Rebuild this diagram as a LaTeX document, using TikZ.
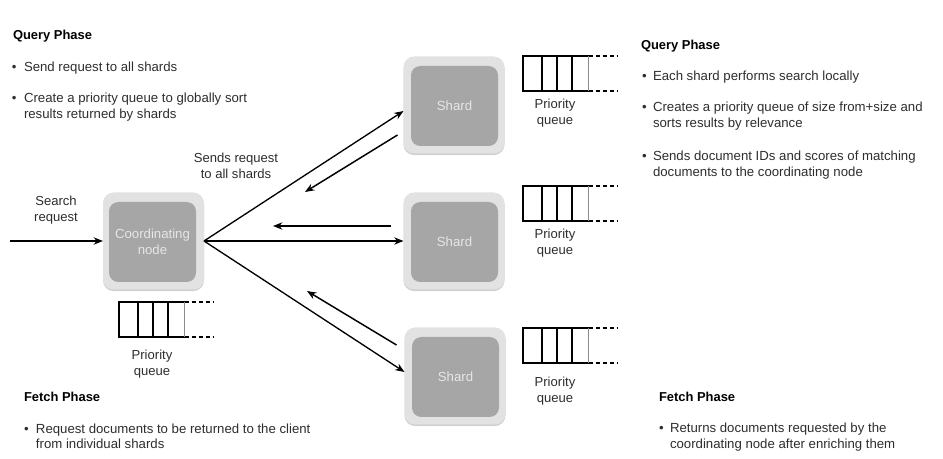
\documentclass[tikz,border=0pt]{standalone}
\usepackage{fontspec}
\setmainfont{Liberation Sans}
\usetikzlibrary{arrows.meta,calc}
\definecolor{outerc}{HTML}{E2E2E2}
\definecolor{innerc}{HTML}{A6A6A6}
\definecolor{boxtxt}{HTML}{E6E6E6}
\definecolor{txtc}{HTML}{2E2E2E}
\begin{document}
\begin{tikzpicture}[x=0.75pt,y=-0.75pt,
  every node/.style={inner sep=0pt,outer sep=0pt},
  txt/.style={anchor=base west,text=txtc,font=\fontsize{9.9}{11.6}\selectfont},
  head/.style={anchor=base west,text=black,font=\fontsize{9.7}{11.6}\selectfont\bfseries},
  lbl/.style={align=center,text=txtc,font=\fontsize{9.8}{12}\selectfont},
  outerbox/.style={fill=outerc,rounded corners=8pt,minimum width=75.75pt,minimum height=72.75pt,
     preaction={fill=black!18,transform canvas={yshift=-1.2pt}}},
  innerbox/.style={fill=innerc,rounded corners=7pt,minimum width=65.25pt,minimum height=60pt,
     align=center,text=boxtxt,font=\fontsize{9.9}{12}\selectfont},
  arr/.style={line width=1.1pt,-{Stealth[length=7pt,width=5.5pt]}},
  fan/.style={line width=1pt,-{Stealth[length=7pt,width=5.5pt]}},
  qthick/.style={line width=1.4pt,line cap=rect},
  qdash/.style={line width=1pt,dash pattern=on 3pt off 2.2pt},
  pqueue/.pic={
    \draw[qthick] (0,0) -- (65,0) (0,35) -- (65,35) (0,0) -- (0,35)
      (19,0) -- (19,35) (34,0) -- (34,35) (49,0) -- (49,35);
    \draw[black!45,line width=0.5pt] (65,0) -- (65,35);
    \draw[qdash] (66,0) -- (95,0) (66,35) -- (95,35);
  }]
\useasboundingbox[fill=white] (0,0) rectangle (943,459);

% --- text blocks ---
\node[head] (lq) at (13,40) {Query Phase};
\node[txt] (lq1b) at (12,72) {•};
\node[txt] (lq1) at (24,72) {Send request to all shards};
\node[txt] (lq2b) at (12,103) {•};
\node[txt] (lq2) at (24,103) {Create a priority queue to globally sort};
\node[txt] (lq2c) at (24,119) {results returned by shards};

\node[head] (rq) at (641,50) {Query Phase};
\node[txt] (rq1b) at (642,81) {•};
\node[txt] (rq1) at (653,81) {Each shard performs search locally};
\node[txt] (rq2b) at (642,112) {•};
\node[txt] (rq2) at (653,112) {Creates a priority queue of size from+size and};
\node[txt] (rq2c) at (653,128) {sorts results by relevance};
\node[txt] (rq3b) at (642,161) {•};
\node[txt] (rq3) at (653,161) {Sends document IDs and scores of matching};
\node[txt] (rq3c) at (653,177) {documents to the coordinating node};

\node[head] (lf) at (24,402) {Fetch Phase};
\node[txt] (lf1b) at (24,434) {•};
\node[txt] (lf1) at (36,434) {Request documents to be returned to the client};
\node[txt] (lf1c) at (36,449) {from individual shards};

\node[head] (rf) at (659,402) {Fetch Phase};
\node[txt] (rf1b) at (659,433) {•};
\node[txt] (rf1) at (670,433) {Returns documents requested by the};
\node[txt] (rf1c) at (670,449) {coordinating node after enriching them};

% --- boxes ---
\node[outerbox] (coordo) at (153.5,241) {};
\node[innerbox] (coord) at (152.5,242) {Coordinating\\node};
\node[outerbox] (shard1o) at (454,105) {};
\node[innerbox] (shard1) at (454.5,106) {Shard};
\node[outerbox] (shard2o) at (454,241) {};
\node[innerbox] (shard2) at (454.5,242) {Shard};
\node[outerbox] (shard3o) at (455,376) {};
\node[innerbox] (shard3) at (455.5,377) {Shard};

% --- priority queues ---
\pic at (119,302) {pqueue};
\node[lbl] (q0l) at (152,364) {Priority\\queue};
\pic at (523,56) {pqueue};
\node[lbl] (q1l) at (555,113) {Priority\\queue};
\pic at (523,186) {pqueue};
\node[lbl] (q2l) at (555,243) {Priority\\queue};
\pic at (523,328) {pqueue};
\node[lbl] (q3l) at (555,391) {Priority\\queue};

% --- labels ---
\node[lbl] (srch) at (56,210) {Search\\request};
\node[lbl] (sends) at (236,166) {Sends request\\to all shards};

% --- connectors ---
\coordinate (client) at (10,241);
\draw[arr] (client) -- (coordo.west);
\draw[fan] (coordo.east) -- ($(shard1o.west)+(0,6)$);
\draw[fan] (coordo.east) -- (shard2o.west);
\draw[fan] (coordo.east) -- ($(shard3o.west)+(0,-4)$);

\coordinate (r1a) at ($(shard1o.west)+(-6,30)$);
\coordinate (r1b) at (305,192);
\draw[arr] (r1a) -- (r1b);
\coordinate (r2a) at ($(shard2o.west)+(-13,-15)$);
\coordinate (r2b) at (273,226);
\draw[arr] (r2a) -- (r2b);
\coordinate (r3a) at ($(shard3o.west)+(-8,-31)$);
\coordinate (r3b) at (307,291);
\draw[arr] (r3a) -- (r3b);
\end{tikzpicture}
\end{document}
